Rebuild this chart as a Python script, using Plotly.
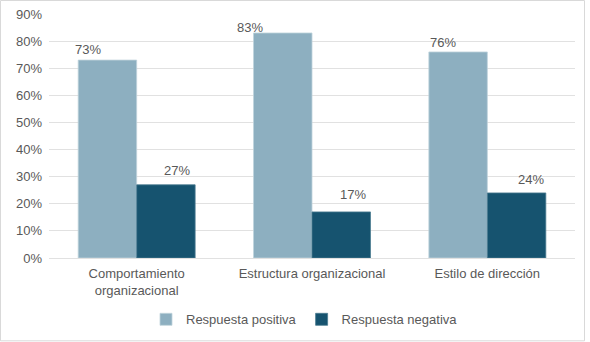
import plotly.graph_objects as go

categories = ["Comportamiento<br>organizacional", "Estructura organizacional", "Estilo de dirección"]
positive = [73, 83, 76]
negative = [27, 17, 24]
tick_vals = [0, 10, 20, 30, 40, 50, 60, 70, 80, 90]
tick_text = [f"{v}%" for v in tick_vals]

# label placement style (pixel offsets of value labels, as hand-placed in the original)
pos_label_dx = [-49, -62, -44]
pos_label_dy = [11, 5, 9]
neg_label_dx = [40, 41, 44]
neg_label_dy = [14, 17, 13]

W, H = 590, 342
ml, mr, mt, mb = 49, 15, 14, 83.5
pw, ph = W - ml - mr, H - mt - mb

font = dict(family="Liberation Sans, Arial, sans-serif", size=13, color="#595959")

fig = go.Figure()
fig.add_trace(go.Bar(name="Respuesta positiva", x=categories, y=positive,
                     marker=dict(color="#8DAFC0", line=dict(color="#BFD3DC", width=0.8)),
                     hoverinfo="x+y"))
fig.add_trace(go.Bar(name="Respuesta negativa", x=categories, y=negative,
                     marker=dict(color="#16536F", line=dict(color="#4A7B91", width=0.8)),
                     hoverinfo="x+y"))

annotations = []
for vals, dxs, dys in ((positive, pos_label_dx, pos_label_dy), (negative, neg_label_dx, neg_label_dy)):
    for c, v, dx, dy in zip(categories, vals, dxs, dys):
        annotations.append(dict(x=c, y=v, xref="x", yref="y", text=f"{v}%",
                                showarrow=False, xanchor="center", yanchor="middle",
                                xshift=dx, yshift=dy, font=font))

fig.update_layout(
    width=W, height=H,
    margin=dict(l=ml, r=mr, t=mt, b=mb, autoexpand=False),
    paper_bgcolor="white", plot_bgcolor="white",
    barmode="group", bargap=0.333, bargroupgap=0,
    font=font,
    showlegend=True,
    legend=dict(orientation="h", x=(146 - ml) / pw, xanchor="left",
                y=-61.5 / ph, yanchor="middle",
                font=font, traceorder="normal", bgcolor="rgba(0,0,0,0)"),
    xaxis=dict(showgrid=False, showline=False, ticks="", tickfont=font,
               automargin=False, ticklabelstandoff=6),
    yaxis=dict(range=[0, 90], tickvals=tick_vals, ticktext=tick_text,
               showgrid=True, gridcolor="#E1E1E1", gridwidth=1.3,
               zeroline=True, zerolinecolor="#E1E1E1", zerolinewidth=1.3,
               showline=False, ticks="", tickfont=font, ticklabelstandoff=6,
               automargin=False),
    annotations=annotations,
    shapes=[dict(type="rect", xref="paper", yref="paper",
                 x0=-(ml - 0.5) / pw, x1=1 + (mr - 5.5) / pw,
                 y0=-(mb - 0.5) / ph, y1=1 + (mt - 0.5) / ph,
                 line=dict(color="#D9D9D9", width=1), layer="below")],
)

fig.write_html("out.html", config={"displayModeBar": False},
               post_script="document.body.style.margin='0';document.body.style.padding='0';"
                           "document.body.style.overflow='hidden';")
